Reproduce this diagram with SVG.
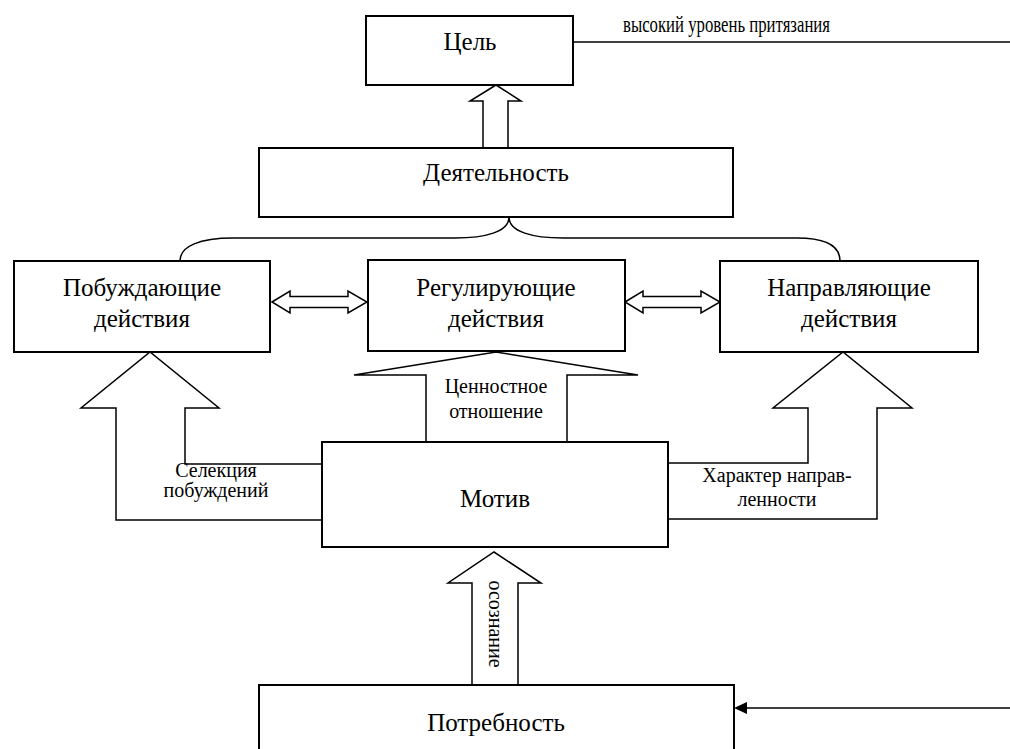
<svg xmlns="http://www.w3.org/2000/svg" width="1010" height="749" viewBox="0 0 1010 749">
<style>
.box{fill:#fff;stroke:#000;stroke-width:2}
.arr{fill:#fff;stroke:#000;stroke-width:1.5;stroke-linejoin:miter}
.ln{fill:none;stroke:#000;stroke-width:1.5}
.t{font-family:'Liberation Serif','DejaVu Serif',serif;font-size:25px;fill:#000;text-anchor:middle}
.s{font-family:'Liberation Serif','DejaVu Serif',serif;font-size:20px;fill:#000;text-anchor:middle}
</style>
<rect width="1010" height="749" fill="#fff"/>
<g id="connectors">
<path class="ln" d="M573 42 L1010 42" stroke-width="2"/>
<path class="arr" d="M496 85 L521 101 L508 101 L508 148 L483 148 L483 101 L470 101 Z"/>
<path class="ln" d="M509 217 C509 232 485 238 455 238 L233 238 C200 238 180 246 180 261"/>
<path class="ln" d="M509 217 C509 232 533 238 563 238 L797 238 C825 238 840 246 840 261"/>
<path class="arr" d="M272 302 L290 291 L290 296.5 L348 296.5 L348 291 L367 302 L348 313 L348 307.5 L290 307.5 L290 313 Z"/>
<path class="arr" d="M625 302 L643 291 L643 296.5 L701 296.5 L701 291 L720 302 L701 313 L701 307.5 L643 307.5 L643 313 Z"/>
<path class="arr" d="M322 464 L185 464 L185 408 L219 408 L150 352 L81 408 L116 408 L116 520 L322 520"/>
<path class="arr" d="M426 442 L426 375 L354 375 L496 352 L638 375 L567 375 L567 442"/>
<path class="arr" d="M669 463 L808 463 L808 408 L773 408 L843 352 L912 408 L877 408 L877 519 L669 519"/>
<path class="arr" d="M472 685 L472 583 L448 583 L494 552 L541 583 L518 583 L518 685"/>
<path class="ln" d="M1010 708 L745 708" stroke-width="2"/>
<polygon points="734,708 747,702 747,714" fill="#000"/>
<text class="s" x="623" y="32" style="text-anchor:start;font-size:23px" textLength="207" lengthAdjust="spacingAndGlyphs">высокий уровень притязания</text>
<text class="s" x="496" y="393">Ценностное</text>
<text class="s" x="496" y="418">отношение</text>
<text class="s" x="216" y="477">Селекция</text>
<text class="s" x="216" y="497">побуждений</text>
<text class="s" x="777" y="482">Характер направ-</text>
<text class="s" x="777" y="506">ленности</text>
<text class="s" transform="translate(489 624) rotate(90)">осознание</text>
</g>
<g id="goal"><rect class="box" x="366" y="16" width="207" height="69"/><text class="t" x="470" y="50">Цель</text></g>
<g id="activity"><rect class="box" x="259" y="148" width="474" height="69"/><text class="t" x="496" y="181">Деятельность</text></g>
<g id="inducing"><rect class="box" x="14" y="261" width="256" height="91"/><text class="t" x="142" y="296">Побуждающие</text><text class="t" x="142" y="327">действия</text></g>
<g id="regulating"><rect class="box" x="368" y="260" width="257" height="91"/><text class="t" x="496" y="296">Регулирующие</text><text class="t" x="496" y="327">действия</text></g>
<g id="directing"><rect class="box" x="720" y="261" width="258" height="91"/><text class="t" x="849" y="296">Направляющие</text><text class="t" x="849" y="327">действия</text></g>
<g id="motive"><rect class="box" x="322" y="442" width="346" height="105"/><text class="t" x="495" y="507">Мотив</text></g>
<g id="need"><rect class="box" x="259" y="685" width="475" height="70"/><text class="t" x="496" y="731">Потребность</text></g>
</svg>
